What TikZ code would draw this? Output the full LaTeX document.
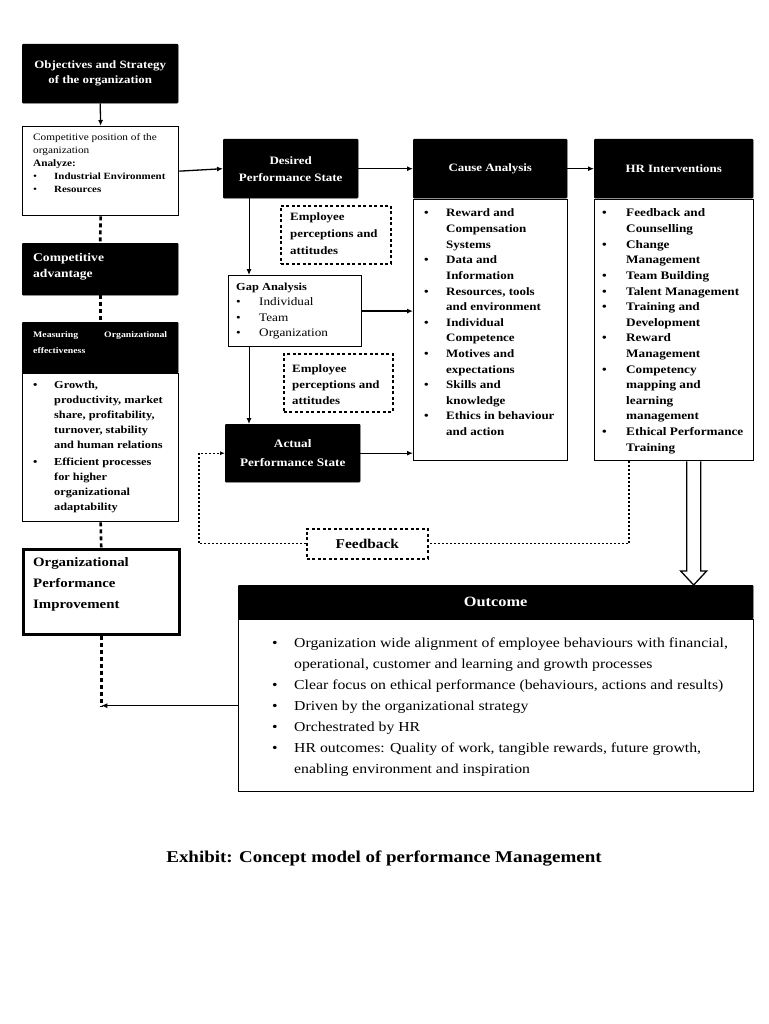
\documentclass[tikz,border=0pt]{standalone}
\usepackage{fontspec}
\setmainfont{Liberation Serif}[FakeStretch=1.15]
\usetikzlibrary{arrows.meta,calc}
\newcommand\bpt[1][21pt]{\makebox[#1][l]{\textbullet}}
\newcommand\bind[1][21pt]{\hspace*{#1}}
\newcommand\tlines[1]{\begin{tabular}[t]{@{}l@{}}#1\end{tabular}}
\begin{document}
\begin{tikzpicture}[x=1pt,y=-1pt,
 blk/.style={draw=black,fill=black,text=white,font=\bfseries,inner sep=0pt,anchor=north west,align=center,rounded corners=1pt},
 wbox/.style={draw=black,line width=1.3pt,fill=white,inner sep=0pt,anchor=north west},
 dbox/.style={draw=black,line width=1.7pt,dash pattern=on 3pt off 2.5pt,inner sep=0pt,anchor=north west},
 txt/.style={inner sep=0pt,anchor=base west},
 arr/.style={line width=1.3pt,-{Latex[length=6pt,width=5pt]}},
 tdash/.style={line width=2.6pt,dash pattern=on 4pt off 3pt},
 fb/.style={line width=1.1pt,dash pattern=on 2pt off 2pt},
]
\useasboundingbox[fill=white] (0,0) rectangle (768,1024);

% left column
\node[blk,minimum width=156pt,minimum height=59pt,font=\fontsize{11.2}{15}\selectfont\bfseries] (obj) at (22,44) {Objectives and Strategy\\of the organization};
\node[wbox,minimum width=156pt,minimum height=89pt] (cpos) at (22,126) {};
\node[txt,font=\fontsize{9.8}{13}\selectfont] (cpost) at (33,141) {\tlines{Competitive position of the\\organization\\\textbf{Analyze:}\\\bpt\textbf{\fontsize{9.5}{13}\selectfont Industrial Environment}\\\bpt\textbf{\fontsize{9.5}{13}\selectfont Resources}}};
\node[blk,minimum width=156pt,minimum height=52pt] (ca) at (22,243) {};
\node[txt,text=white,font=\fontsize{11.8}{16}\selectfont\bfseries] (cat) at (33,261) {\tlines{Competitive\\advantage}};
\node[blk,minimum width=156pt,minimum height=51pt] (moeh) at (22,322) {};
\node[txt,text=white,font=\fontsize{8.5}{16}\selectfont\bfseries] (moet) at (33,337) {\tlines{\makebox[134pt][l]{Measuring\hfill Organizational}\\effectiveness}};
\node[wbox,minimum width=156pt,minimum height=148pt] (moeb) at (22,373) {};
\node[txt,font=\fontsize{10.7}{15}\selectfont\bfseries] (moebt) at (33,388) {\tlines{\bpt Growth,\\\bind productivity, market\\\bind share, profitability,\\\bind turnover, stability\\\bind and human relations\\[2pt]\bpt Efficient processes\\\bind for higher\\\bind organizational\\\bind adaptability}};
\node[wbox,line width=2.5pt,minimum width=156pt,minimum height=85pt] (opi) at (22,548) {};
\node[txt,font=\fontsize{12.9}{21}\selectfont\bfseries] (opit) at (33,566) {\tlines{Organizational\\Performance\\Improvement}};

% centre column
\node[blk,minimum width=135pt,minimum height=59pt,font=\fontsize{11.3}{17}\selectfont\bfseries] (des) at (223,139) {Desired\\Performance State};
\node[dbox,minimum width=110pt,minimum height=58pt] (ep1) at (280,205) {};
\node[txt,font=\fontsize{11.2}{16.5}\selectfont\bfseries] (ep1t) at (290,221) {\tlines{Employee\\perceptions and\\attitudes}};
\node[wbox,line width=1.2pt,minimum width=133pt,minimum height=71pt] (gap) at (228,275) {};
\node[txt,font=\fontsize{11.5}{15.5}\selectfont] (gapt) at (236,290) {\tlines{\textbf{\fontsize{10.8}{15.5}\selectfont Gap Analysis}\\\bpt[23pt]Individual\\\bpt[23pt]Team\\\bpt[23pt]Organization}};
\node[dbox,minimum width=109pt,minimum height=58pt] (ep2) at (283,353) {};
\node[txt,font=\fontsize{11.2}{16}\selectfont\bfseries] (ep2t) at (292,372) {\tlines{Employee\\perceptions and\\attitudes}};
\node[blk,minimum width=135pt,minimum height=58pt,font=\fontsize{11.5}{19}\selectfont\bfseries] (act) at (225,424) {Actual\\Performance State};

% cause analysis
\node[blk,minimum width=154pt,minimum height=59pt,font=\fontsize{11.2}{13}\selectfont\bfseries] (ch) at (413,139) {Cause Analysis};
\node[wbox,minimum width=154pt,minimum height=261pt] (cb) at (413,199) {};
\node[txt,font=\fontsize{11.3}{15.6}\selectfont\bfseries] (cbt) at (424,217) {\tlines{\bpt[22pt]Reward and\\\bind[22pt]Compensation\\\bind[22pt]Systems\\\bpt[22pt]Data and\\\bind[22pt]Information\\\bpt[22pt]Resources, tools\\\bind[22pt]and environment\\\bpt[22pt]Individual\\\bind[22pt]Competence\\\bpt[22pt]Motives and\\\bind[22pt]expectations\\\bpt[22pt]Skills and\\\bind[22pt]knowledge\\\bpt[22pt]Ethics in behaviour\\\bind[22pt]and action}};

% HR interventions
\node[blk,minimum width=159pt,minimum height=59pt,font=\fontsize{11.2}{13}\selectfont\bfseries] (hh) at (594,139) {HR Interventions};
\node[wbox,minimum width=159pt,minimum height=261pt] (hb) at (594,199) {};
\node[txt,font=\fontsize{11.5}{15.6}\selectfont\bfseries] (hbt) at (602,217) {\tlines{\bpt[24pt]Feedback and\\\bind[24pt]Counselling\\\bpt[24pt]Change\\\bind[24pt]Management\\\bpt[24pt]Team Building\\\bpt[24pt]Talent Management\\\bpt[24pt]Training and\\\bind[24pt]Development\\\bpt[24pt]Reward\\\bind[24pt]Management\\\bpt[24pt]Competency\\\bind[24pt]mapping and\\\bind[24pt]learning\\\bind[24pt]management\\\bpt[24pt]Ethical Performance\\\bind[24pt]Training}};

% feedback
\node[dbox,minimum width=121pt,minimum height=30pt,font=\fontsize{13.4}{15}\selectfont\bfseries] (fbk) at (306,528) {Feedback};

% outcome
\node[blk,minimum width=515pt,minimum height=34pt,font=\fontsize{14.2}{16}\selectfont\bfseries] (oh) at (238,585) {Outcome};
\node[wbox,minimum width=515pt,minimum height=172pt] (ob) at (238,619) {};
\node[txt,font=\fontsize{13.7}{21}\selectfont] (obt) at (272,647) {\tlines{\bpt[22pt]Organization wide alignment of employee behaviours with financial,\\\bind[22pt]operational, customer and learning and growth processes\\\bpt[22pt]Clear focus on ethical performance (behaviours, actions and results)\\\bpt[22pt]Driven by the organizational strategy\\\bpt[22pt]Orchestrated by HR\\\bpt[22pt]HR outcomes: Quality of work, tangible rewards, future growth,\\\bind[22pt]enabling environment and inspiration}};

% caption
\node[inner sep=0pt,anchor=base,font=\fontsize{16.5}{20}\selectfont\bfseries] (cap) at (384,862) {Exhibit: Concept model of performance Management};

% connectors left
\draw[arr] (obj.south) -- (cpos.north);
\draw[tdash] (cpos.south) -- (ca.north);
\draw[tdash] (ca.south) -- (moeh.north);
\draw[tdash] (moeb.south) -- (opi.north);
\coordinate (ret) at (opi.south |- ob.west);
\draw[tdash] (opi.south) -- (ret);
\draw[arr] (ob.west) -- (ret);

% connectors centre
\draw[arr] (cpos.east) -- (des.west);
\draw[arr] (des.east) -- (ch.west);
\draw[arr] (ch.east) -- (hh.west);
\coordinate (d1) at ($(des.south west)+(26,0)$);
\draw[arr,line width=1pt] (d1) -- (d1 |- gap.north);
\draw[arr,line width=1pt] (d1 |- gap.south) -- (d1 |- act.north);
\draw[arr] (gap.east) -- (gap.east -| cb.west);
\draw[arr] (act.east) -- (act.east -| cb.west);

% feedback loop
\coordinate (f1) at ($(hb.south west)+(35,0)$);
\draw[fb] (f1) -- (f1 |- fbk.east) -- (fbk.east);
\coordinate (f2) at ($(fbk.west)+(-107,0)$);
\draw[fb,-{Latex[length=5pt,width=4pt]}] (fbk.west) -- (f2) -- (f2 |- act.west) -- (act.west);

% hollow arrow HR -> outcome
\coordinate (h1) at ($(hb.south)+(19.5,0)$);
\draw[line width=1.3pt,fill=white,line join=miter] ($(h1)+(-7,0)$) -- ($(h1 |- oh.north)+(-7,-14)$) -- ($(h1 |- oh.north)+(-13,-14)$) -- (h1 |- oh.north) -- ($(h1 |- oh.north)+(13,-14)$) -- ($(h1 |- oh.north)+(7,-14)$) -- ($(h1)+(7,0)$);
\end{tikzpicture}
\end{document}
